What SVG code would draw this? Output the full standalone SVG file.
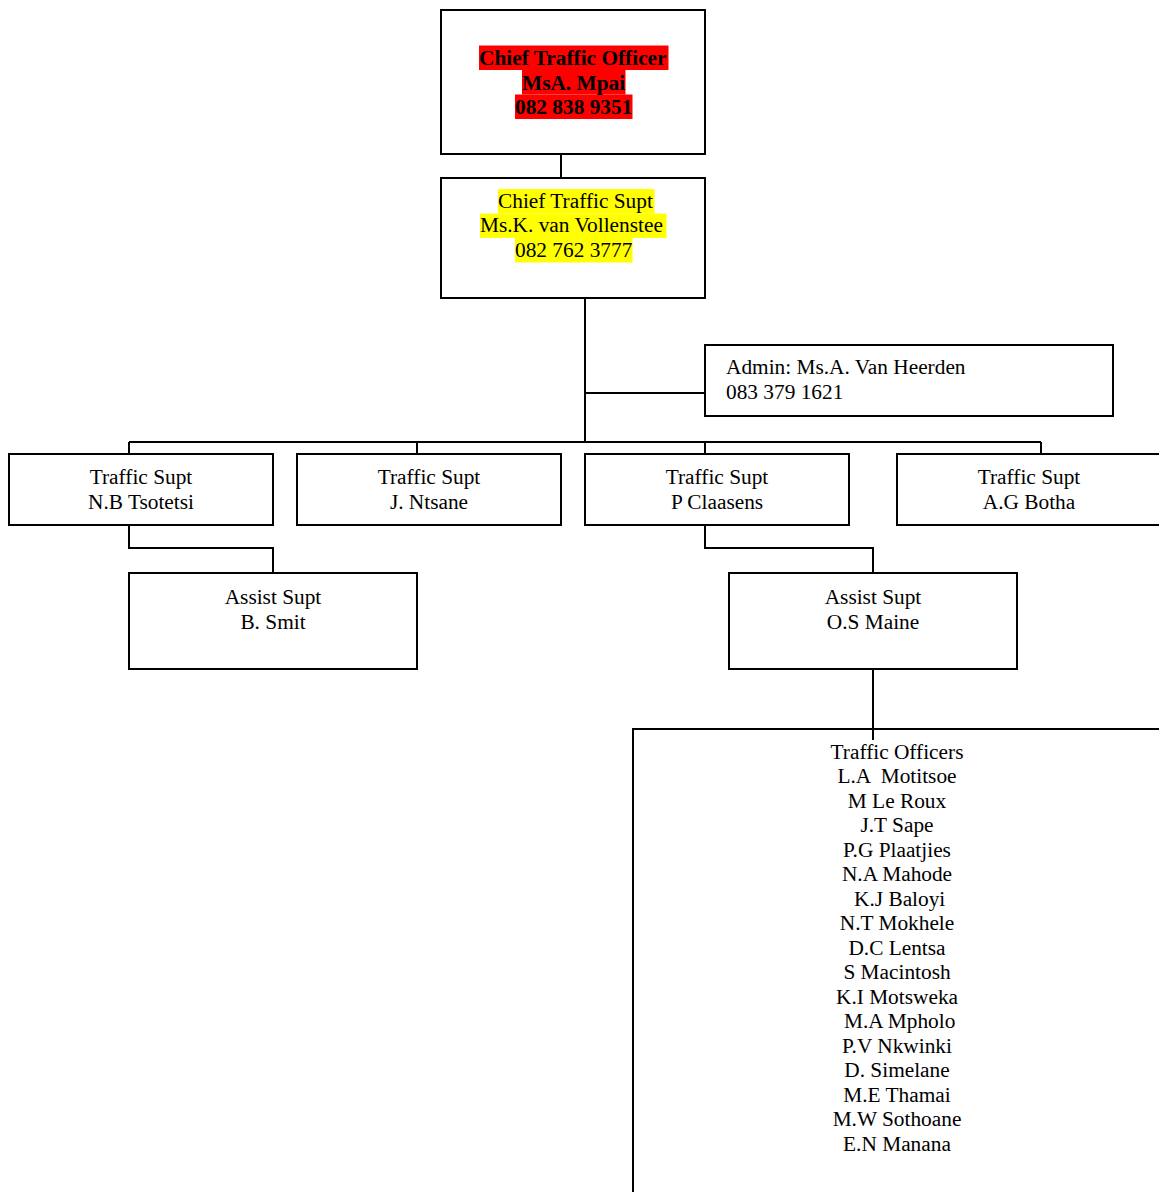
<svg xmlns="http://www.w3.org/2000/svg" width="1159" height="1192" viewBox="0 0 1159 1192">
<style>
.box{fill:#fff;stroke:#000;stroke-width:2}
.con{fill:none;stroke:#000;stroke-width:2}
text{font-family:"Liberation Serif","Times New Roman",serif;font-size:21.33px;fill:#000}
.c{text-anchor:middle}
.b{font-weight:bold}
</style>
<rect width="1159" height="1192" fill="#fff"/>
<g id="connectors">
<path class="con" d="M561 154V178"/>
<path class="con" d="M585 298V442"/>
<path class="con" d="M585 393H705"/>
<path class="con" d="M129 442H1041"/>
<path class="con" d="M129 442V454M417 442V454M705 442V454M1041 442V454"/>
<path class="con" d="M129 525V548H273V573"/>
<path class="con" d="M705 525V548H873V573"/>
</g>
<g id="chief-officer">
<rect class="box" x="441" y="10" width="264" height="144"/>
<rect x="479" y="45.5" width="189.5" height="24.5" fill="#ff0000"/>
<rect x="522" y="70" width="103.5" height="24.5" fill="#ff0000"/>
<rect x="515" y="94.5" width="117.5" height="24.5" fill="#ff0000"/>
<text class="b" x="479" y="65">Chief Traffic Officer</text>
<text class="b" x="522" y="89.5">MsA. Mpai</text>
<text class="b" x="515" y="114">082 838 9351</text>
</g>
<g id="chief-supt">
<rect class="box" x="441" y="178" width="264" height="120"/>
<rect x="498" y="189" width="156.5" height="24.5" fill="#ffff00"/>
<rect x="480" y="213.5" width="186.5" height="24.5" fill="#ffff00"/>
<rect x="515" y="238" width="117.5" height="24.5" fill="#ffff00"/>
<text x="498" y="207.5">Chief Traffic Supt</text>
<text x="480" y="232">Ms.K. van Vollenstee</text>
<text x="515" y="256.5">082 762 3777</text>
</g>
<g id="admin">
<rect class="box" x="705" y="345" width="408" height="71"/>
<text x="726" y="374">Admin: Ms.A. Van Heerden</text>
<text x="726" y="398.5">083 379 1621</text>
</g>
<g id="supt-tsotetsi">
<rect class="box" x="9" y="454" width="264" height="71"/>
<text class="c" x="141" y="484">Traffic Supt</text>
<text class="c" x="141" y="508.5">N.B Tsotetsi</text>
</g>
<g id="supt-ntsane">
<rect class="box" x="297" y="454" width="264" height="71"/>
<text class="c" x="429" y="484">Traffic Supt</text>
<text class="c" x="429" y="508.5">J. Ntsane</text>
</g>
<g id="supt-claasens">
<rect class="box" x="585" y="454" width="264" height="71"/>
<text class="c" x="717" y="484">Traffic Supt</text>
<text class="c" x="717" y="508.5">P Claasens</text>
</g>
<g id="supt-botha">
<rect class="box" x="897" y="454" width="264" height="71"/>
<text class="c" x="1029" y="484">Traffic Supt</text>
<text class="c" x="1029" y="508.5">A.G Botha</text>
</g>
<g id="assist-smit">
<rect class="box" x="129" y="573" width="288" height="96"/>
<text class="c" x="273" y="604">Assist Supt</text>
<text class="c" x="273" y="628.5">B. Smit</text>
</g>
<g id="assist-maine">
<rect class="box" x="729" y="573" width="288" height="96"/>
<text class="c" x="873" y="604">Assist Supt</text>
<text class="c" x="873" y="628.5">O.S Maine</text>
</g>
<g id="traffic-officers">
<rect class="box" x="633" y="729" width="528" height="500"/>
<text class="c" x="897" y="758.5" xml:space="preserve">Traffic Officers</text>
<text class="c" x="897" y="783" xml:space="preserve">L.A  Motitsoe</text>
<text class="c" x="897" y="807.5" xml:space="preserve">M Le Roux</text>
<text class="c" x="897" y="832" xml:space="preserve">J.T Sape</text>
<text class="c" x="897" y="856.5" xml:space="preserve">P.G Plaatjies</text>
<text class="c" x="897" y="881" xml:space="preserve">N.A Mahode</text>
<text class="c" x="897" y="905.5" xml:space="preserve"> K.J Baloyi</text>
<text class="c" x="897" y="930" xml:space="preserve">N.T Mokhele</text>
<text class="c" x="897" y="954.5" xml:space="preserve">D.C Lentsa</text>
<text class="c" x="897" y="979" xml:space="preserve">S Macintosh</text>
<text class="c" x="897" y="1003.5" xml:space="preserve">K.I Motsweka</text>
<text class="c" x="897" y="1028" xml:space="preserve"> M.A Mpholo</text>
<text class="c" x="897" y="1052.5" xml:space="preserve">P.V Nkwinki</text>
<text class="c" x="897" y="1077" xml:space="preserve">D. Simelane</text>
<text class="c" x="897" y="1101.5" xml:space="preserve">M.E Thamai</text>
<text class="c" x="897" y="1126" xml:space="preserve">M.W Sothoane</text>
<text class="c" x="897" y="1150.5" xml:space="preserve">E.N Manana</text>
</g>
<g id="connectors-top">
<path class="con" d="M873 669V740"/>
</g>
</svg>
